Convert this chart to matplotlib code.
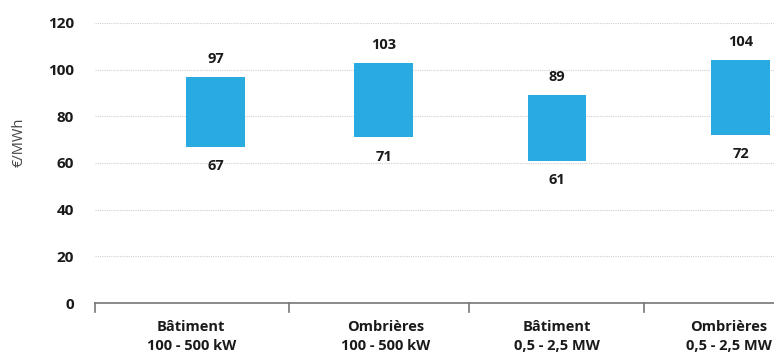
import matplotlib
matplotlib.use('Agg')
import matplotlib.pyplot as plt

# Fourchettes de coût par segment (€/MWh)
categories = ["Bâtiment\n100 - 500 kW", "Ombrières\n100 - 500 kW",
              "Bâtiment\n0,5 - 2,5 MW", "Ombrières\n0,5 - 2,5 MW"]
low = [67, 71, 61, 72]
high = [97, 103, 89, 104]
yticks = [0, 20, 40, 60, 80, 100, 120]

plt.rcParams['font.family'] = ['Open Sans', 'DejaVu Sans']

fig = plt.figure(figsize=(7.74, 3.58), dpi=100)
ax = fig.add_axes([0.1227, 0.1536, 0.8773, 0.7822])

# positions des barres et des libellés sur l'axe x
bar_pos = [0.01, 0.97, 1.96, 3.01]
label_pos = [-0.13, 0.98, 1.96, 2.94]
sep_pos = [-0.68, 0.43, 1.46, 2.46]

heights = [h - l for l, h in zip(low, high)]
ax.bar(bar_pos, heights, bottom=low, width=0.335, color='#29abe2', zorder=3)

for xi, l, h in zip(bar_pos, low, high):
    ax.annotate(str(h), (xi, h), xytext=(0, 8), textcoords='offset points',
                ha='center', va='bottom', fontsize=10.5, fontweight='bold', color='#1a1a1a')
    ax.annotate(str(l), (xi, l), xytext=(0, -9), textcoords='offset points',
                ha='center', va='top', fontsize=10.5, fontweight='bold', color='#1a1a1a')

ax.set_ylim(0, 120)
ax.set_xlim(-0.68, 3.2)
ax.set_yticks(yticks)
ax.set_yticklabels([str(v) for v in yticks], fontsize=11, fontweight='bold', color='#1a1a1a')
ax.tick_params(axis='y', length=0, pad=15)
ax.set_ylabel("€/MWh", fontsize=10.5, color='#444444')
ax.yaxis.set_label_coords(-0.10, 0.575)

for v in yticks[1:]:
    ax.axhline(v, color='#d0d0d0', linestyle=(0, (1, 1)), linewidth=0.8, zorder=1)

# catégories, traits de séparation entre elles
ax.set_xticks(label_pos)
ax.set_xticklabels(categories, fontsize=10.5, fontweight='bold', color='#1a1a1a',
                   linespacing=1.45)
ax.tick_params(axis='x', length=0, pad=12)
for b in sep_pos:
    ax.plot([b, b], [0, -3.8], color='#777777', linewidth=1.2, clip_on=False, zorder=4)

for s in ['top', 'right', 'left']:
    ax.spines[s].set_visible(False)
ax.spines['bottom'].set_color('#777777')
ax.spines['bottom'].set_linewidth(1.2)

fig.savefig('out.png', dpi=100)
